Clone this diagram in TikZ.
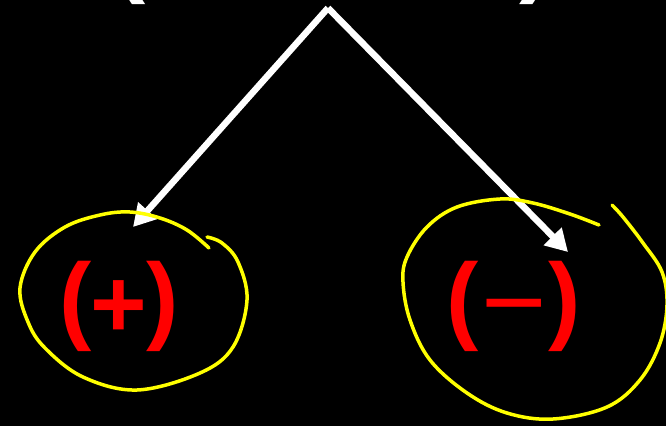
\documentclass[tikz,border=0pt]{standalone}
\usepackage{fontspec}
\setmainfont{Liberation Sans}
\usetikzlibrary{arrows.meta}
\definecolor{hlyellow}{RGB}{255,255,0}
\definecolor{signred}{RGB}{255,0,0}
\tikzset{
  bigglyph/.style={inner sep=0pt, font=\fontsize{97}{100}\selectfont\bfseries},
  redglyph/.style={bigglyph, text=signred},
  whiteglyph/.style={bigglyph, text=white},
  whitearrow/.style={draw=white, line width=6.5pt, -{Triangle[length=22pt,width=24pt]}},
  ring/.style={draw=hlyellow, line width=3.5pt, line cap=round, line join=round}
}
\begin{document}
\begin{tikzpicture}[x=1pt,y=-1pt]
\fill[black] (0,0) rectangle (666,426);
\useasboundingbox (0,0) rectangle (666,426);
% top parentheses (cut off by the top edge)
\node[whiteglyph, anchor=south] (topl) at (130,5) {(};
\node[whiteglyph, anchor=south] (topr) at (536,5) {)};
% arrows
\coordinate (apex) at (328,8);
\coordinate (tipL) at (133,227);
\coordinate (tipR) at (568,252);
\draw[whitearrow] (apex) -- (tipL);
\draw[whitearrow] (apex) -- (tipR);
% plus group
\node[redglyph, anchor=south] (pl) at (75.5,352) {(};
\node[redglyph] (plus) at (119,309) {+};
\node[redglyph, anchor=south] (pr) at (162.5,352) {)};
% minus group
\node[redglyph, anchor=south] (ml) at (462.5,352) {(};
\node[inner sep=0pt, text=signred, font=\fontsize{112}{114}\selectfont] (minus) at (514,320) {−};
\node[redglyph, anchor=south] (mr) at (565,352) {)};
% hand-drawn rings
\draw[ring] plot[smooth, tension=0.6] coordinates {
 (209,248) (187,230) (160,218) (130,212) (100,215) (65,227) (35,252) (20,288)
 (28,322) (45,348) (83,377) (137,390) (200,373) (233,347) (247,300) (238,262)
 (222,243) (207,237)};
\draw[ring] plot[smooth, tension=0.6] coordinates {
 (599,225) (570,214) (533,203) (500,199) (457,207) (427,227) (407,257) (403,282)
 (410,320) (430,360) (467,393) (507,413) (553,419) (607,407) (640,380) (660,343)
 (667,305) (662,272) (643,243) (623,217) (612,205)};
\end{tikzpicture}
\end{document}
